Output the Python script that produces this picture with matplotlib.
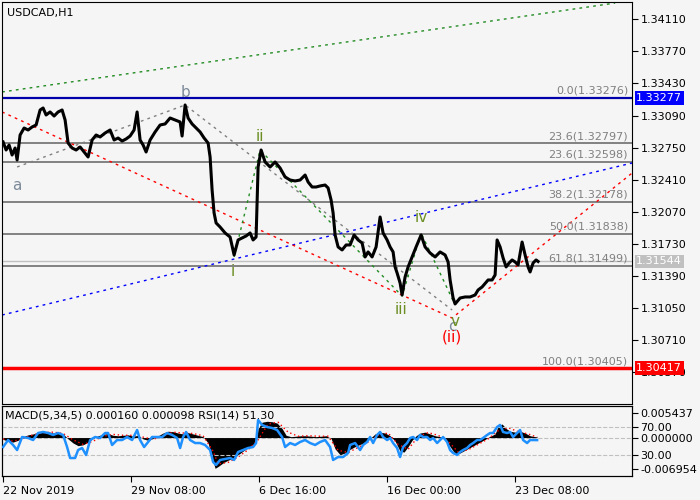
import numpy as np
import matplotlib.pyplot as plt

# hourly bars counted from 22 Nov 2019 00:00 (one bar per pixel on the reference)
bars = [0, 3, 6, 9, 12, 14, 17, 21, 25, 29, 33, 37, 40, 43, 47, 51, 55, 59, 62, 65,
        69, 73, 77, 81, 85, 89, 93, 97, 102, 107, 111, 115, 119, 123, 127, 131, 134, 137, 140, 143,
        147, 152, 157, 162, 167, 172, 177, 179, 182, 185, 189, 193, 197, 201, 205, 207, 209, 211, 213, 217,
        222, 227, 231, 235, 239, 243, 247, 250, 253, 255, 258, 262, 267, 272, 277, 282, 287, 292, 297, 302,
        305, 309, 313, 317, 322, 325, 328, 330, 332, 335, 339, 343, 347, 351, 355, 359, 362, 365, 369, 373,
        377, 380, 384, 387, 390, 392, 394, 397, 399, 402, 405, 409, 413, 418, 422, 427, 432, 437, 442, 445,
        447, 450, 452, 457, 462, 467, 472, 475, 479, 485, 489, 492, 494, 497, 500, 503, 506, 509, 512, 515,
        519, 522, 525, 527, 530, 533, 535]
close = [1.32810, 1.32725, 1.32778, 1.32672, 1.32746, 1.32619, 1.32884, 1.32958, 1.32937, 1.32969,
         1.32990, 1.33149, 1.33170, 1.33096, 1.33128, 1.33085, 1.33128, 1.33149, 1.33043, 1.32799,
         1.32746, 1.32725, 1.32757, 1.32704, 1.32651, 1.32831, 1.32884, 1.32863, 1.32905, 1.32937,
         1.32831, 1.32852, 1.32820, 1.32842, 1.32873, 1.32937, 1.33128, 1.32831, 1.32778, 1.32704,
         1.32831, 1.32916, 1.32990, 1.33001, 1.33064, 1.33043, 1.33022, 1.32873, 1.33202, 1.33064,
         1.33001, 1.32958, 1.32916, 1.32852, 1.32799, 1.32651, 1.32301, 1.32058, 1.31952, 1.31909,
         1.31846, 1.31803, 1.31613, 1.31772, 1.31793, 1.31814, 1.31846, 1.31772, 1.31803, 1.32545,
         1.32725, 1.32598, 1.32545, 1.32598, 1.32534, 1.32439, 1.32407, 1.32397, 1.32407, 1.32460,
         1.32386, 1.32333, 1.32333, 1.32344, 1.32354, 1.32323, 1.32195, 1.32058, 1.31825, 1.31698,
         1.31666, 1.31719, 1.31719, 1.31825, 1.31772, 1.31740, 1.31592, 1.31645, 1.31592, 1.31698,
         1.32015, 1.31846, 1.31772, 1.31698, 1.31645, 1.31486, 1.31422, 1.31316, 1.31189, 1.31380,
         1.31486, 1.31592, 1.31698, 1.31825, 1.31698, 1.31634, 1.31592, 1.31645, 1.31613, 1.31539,
         1.31348, 1.31157, 1.31094, 1.31157, 1.31168, 1.31168, 1.31189, 1.31242, 1.31274, 1.31348,
         1.31348, 1.31401, 1.31772, 1.31698, 1.31581, 1.31486, 1.31528, 1.31560, 1.31539, 1.31507,
         1.31750, 1.31613, 1.31486, 1.31433, 1.31528, 1.31560, 1.31544]

fib_levels = [1.33276, 1.32797, 1.32598, 1.32178, 1.31838, 1.31499, 1.30405]
fib_labels = ['0.0(1.33276)', '23.6(1.32797)', '23.6(1.32598)', '38.2(1.32178)',
              '50.0(1.31838)', '61.8(1.31499)', '100.0(1.30405)']

price_ticks = [1.34110, 1.33770, 1.33430, 1.33090, 1.32750, 1.32410, 1.32070,
               1.31730, 1.31390, 1.31050, 1.30710, 1.30370]

# trend / channel lines (bar, price)
green_top_x, green_top_y = [-1, 612], [1.33340, 1.34282]
blue_x, blue_y = [-1, 629], [1.30977, 1.32587]
red_x, red_y = [-1, 449, 629], [1.33128, 1.30945, 1.32481]
abc_x, abc_y = [14, 182, 449], [1.32545, 1.33202, 1.31030]
wave_x = [231, 257, 399, 418, 452]
wave_y = [1.31592, 1.32725, 1.31178, 1.31846, 1.31083]

# wave labels
labels_gray = [('a', 14, 1.32354), ('b', 182, 1.33329), ('c', 449, 1.30850)]
labels_green = [('i', 230, 1.31433), ('ii', 257, 1.32863), ('iii', 398, 1.31030),
                ('iv', 418, 1.32015), ('v', 452, 1.30903)]

# indicator panel
macd_x = [0, 5, 10, 15, 20, 25, 30, 35, 40, 45, 50, 55, 60, 65, 70, 75, 80, 85, 90, 95,
          100, 105, 110, 115, 120, 125, 130, 135, 140, 145, 150, 155, 160, 165, 170, 175, 180, 185, 190, 195,
          200, 205, 209, 212, 215, 220, 225, 230, 235, 240, 245, 250, 253, 255, 259, 264, 269, 274, 279, 283,
          288, 293, 298, 303, 308, 313, 318, 323, 328, 332, 337, 342, 347, 352, 357, 362, 367, 372, 377, 382,
          387, 392, 397, 401, 405, 409, 413, 417, 422, 427, 432, 437, 442, 447, 452, 457, 462, 467, 472, 477,
          482, 487, 492, 495, 499, 503, 507, 512, 517, 522, 527, 532, 534]
macd = [-0.0004, -0.0008, -0.0010, -0.0006, 0.0002, 0.0006, 0.0008, 0.0011, 0.0014, 0.0013,
        0.0010, 0.0011, 0.0008, -0.0003, -0.0012, -0.0018, -0.0016, -0.0010, -0.0002, 0.0004,
        0.0007, 0.0009, 0.0005, 0.0004, 0.0005, 0.0006, 0.0003, 0.0005, -0.0003, -0.0006,
        -0.0002, 0.0004, 0.0010, 0.0014, 0.0013, 0.0010, 0.0008, 0.0011, 0.0008, 0.0005,
        0.0002, -0.0012, -0.0045, -0.0068, -0.0064, -0.0056, -0.0050, -0.0046, -0.0038, -0.0030,
        -0.0022, -0.0016, -0.0010, 0.0020, 0.0034, 0.0036, 0.0035, 0.0032, 0.0020, 0.0005,
        0.0002, 0.0003, 0.0004, 0.0004, 0.0003, 0.0002, 0.0003, 0.0004, -0.0002, -0.0025,
        -0.0038, -0.0034, -0.0026, -0.0020, -0.0015, -0.0012, -0.0002, 0.0008, 0.0012, 0.0010,
        0.0004, -0.0008, -0.0030, -0.0032, -0.0020, -0.0006, 0.0004, 0.0010, 0.0012, 0.0008,
        0.0004, 0.0002, -0.0004, -0.0020, -0.0036, -0.0034, -0.0028, -0.0022, -0.0016, -0.0010,
        -0.0004, 0.0003, 0.0008, 0.0025, 0.0030, 0.0020, 0.0014, 0.0012, 0.0014, 0.0010,
        0.0004, 0.0002, 0.00016]
signal_x = [0, 10, 20, 30, 40, 50, 60, 70, 80, 90, 100, 110, 120, 130, 140, 150, 160, 170, 180, 190,
            200, 210, 215, 225, 235, 245, 255, 265, 275, 285, 295, 305, 315, 325, 335, 345, 355, 365, 375, 385,
            395, 405, 415, 425, 435, 445, 455, 465, 475, 485, 495, 505, 515, 525, 534]
signal = [-0.0003, -0.0008, -0.0002, 0.0006, 0.0011, 0.0012, 0.0009, -0.0005, -0.0015, -0.0008,
          0.0003, 0.0007, 0.0005, 0.0005, 0.0001, -0.0004, 0.0004, 0.0012, 0.0010, 0.0009,
          0.0004, -0.0030, -0.0058, -0.0055, -0.0043, -0.0027, -0.0005, 0.0030, 0.0034, 0.0012,
          0.0003, 0.0004, 0.0003, 0.0003, -0.0028, -0.0033, -0.0022, -0.0010, 0.0005, 0.0010,
          -0.0015, -0.0026, 0.0002, 0.0011, 0.0005, -0.0008, -0.0032, -0.0027, -0.0015, -0.0003,
          0.0015, 0.0022, 0.0013, 0.0008, 0.000098]
rsi_x = [0, 5, 10, 14, 19, 25, 30, 35, 40, 45, 50, 55, 60, 64, 67, 72, 75, 79, 83, 87,
         92, 97, 102, 105, 109, 114, 119, 124, 129, 134, 137, 141, 145, 149, 154, 159, 164, 169, 174, 177,
         180, 183, 187, 192, 197, 202, 207, 210, 213, 217, 222, 227, 231, 235, 240, 245, 250, 253, 255, 259,
         264, 269, 274, 279, 282, 287, 292, 297, 302, 307, 312, 317, 322, 327, 330, 335, 340, 345, 347, 352,
         357, 360, 364, 367, 370, 374, 377, 380, 384, 387, 390, 394, 397, 400, 404, 407, 410, 414, 417, 420,
         424, 427, 430, 434, 437, 440, 444, 447, 450, 454, 457, 460, 464, 467, 470, 474, 477, 480, 484, 487,
         490, 494, 497, 500, 504, 507, 510, 514, 517, 520, 524, 527, 530, 534]
rsi = [41.4, 51.4, 44.3, 37.1, 55.7, 54.3, 51.4, 61.4, 62.9, 61.4, 58.6, 61.4, 58.6, 41.4, 25.7, 25.7, 37.1, 40.0, 30.0, 51.4,
       55.7, 54.3, 61.4, 61.4, 44.3, 51.4, 51.4, 55.7, 51.4, 65.7, 51.4, 41.4, 48.6, 55.7, 55.7, 55.7, 61.4, 58.6, 54.3, 40.0,
       55.7, 62.9, 51.4, 47.1, 47.1, 44.3, 37.1, 20.0, 15.7, 22.9, 24.3, 25.7, 22.9, 34.3, 37.1, 40.0, 41.4, 47.1, 80.0, 72.9,
       70.0, 68.6, 65.7, 55.7, 41.4, 47.1, 44.3, 48.6, 51.4, 47.1, 44.3, 48.6, 51.4, 41.4, 22.9, 27.1, 27.1, 32.9, 44.3, 47.1,
       37.1, 44.3, 48.6, 55.7, 47.1, 58.6, 62.9, 55.7, 51.4, 54.3, 47.1, 40.0, 27.1, 41.4, 47.1, 54.3, 55.7, 51.4, 58.6, 55.7,
       55.7, 51.4, 54.3, 47.1, 51.4, 55.7, 48.6, 37.1, 32.9, 30.0, 34.3, 37.1, 40.0, 44.3, 47.1, 51.4, 51.4, 54.3, 58.6, 61.4,
       61.4, 70.0, 72.9, 62.9, 61.4, 62.9, 55.7, 61.4, 65.7, 51.4, 47.1, 51.4, 51.4, 51.3]

date_ticks = [0, 128, 256, 384, 512]
date_labels = ['22 Nov 2019', '29 Nov 08:00', '6 Dec 16:00', '16 Dec 00:00', '23 Dec 08:00']

bg = '#f5f5f5'
grey = '#808080'
fig = plt.figure(figsize=(7, 5), dpi=100, facecolor=bg)
ax = fig.add_axes([0.003, 0.192, 0.9, 0.804], facecolor=bg)
axm = fig.add_axes([0.003, 0.048, 0.9, 0.14], facecolor=bg, sharex=ax)
axr = axm.twinx()
axr.patch.set_visible(False)

# ---- price panel ----
for lvl, lab in zip(fib_levels, fib_labels):
    ax.axhline(lvl, color='#6e6e6e', lw=1.2, zorder=1)
    ax.annotate(lab, (625, lvl), xytext=(0, 1.5), textcoords='offset points',
                ha='right', va='bottom', color=grey, fontsize=8)
ax.axhline(1.33277, color='#0000aa', lw=1.6, zorder=2)
ax.axhline(1.30417, color='#ff0000', lw=2.5, zorder=2)
ax.axhline(1.31544, color='#c0c0c0', lw=1, zorder=1)

ax.plot(green_top_x, green_top_y, color='#228b22', ls=(0, (2, 3)), lw=1)
ax.plot(blue_x, blue_y, color='#0000ff', ls=(0, (2, 3)), lw=1)
ax.plot(red_x, red_y, color='#ff0000', ls=(0, (2, 3)), lw=1)
ax.plot(abc_x, abc_y, color=grey, ls=(0, (2, 3)), lw=1)
ax.plot(wave_x, wave_y, color='#228b22', ls=(0, (2, 3)), lw=1)

ax.plot(bars, close, color='black', lw=2.2, zorder=3)

for t, x, y in labels_gray:
    ax.text(x, y, t, color='#7d8a99', fontsize=11, ha='center', va='center', zorder=4)
for t, x, y in labels_green:
    ax.text(x, y, t, color='#6b8e23', fontsize=11, ha='center', va='center', zorder=4)
ax.text(449, 1.30740, '(ii)', color='#ff0000', fontsize=11, ha='center', va='center', zorder=4)

ax.text(0.008, 0.985, 'USDCAD,H1', transform=ax.transAxes, fontsize=8, va='top', ha='left')

ax.set_xlim(-1, 629)
ax.set_ylim(1.30034, 1.34293)
ax.yaxis.tick_right()
ax.set_yticks(price_ticks)
ax.set_yticklabels(['%.5f' % p for p in price_ticks], fontsize=8)
ax.tick_params(axis='y', direction='out', length=4, pad=2)
ax.tick_params(axis='x', bottom=False, labelbottom=False)

for val, col in [(1.33277, '#0000ff'), (1.31544, '#c0c0c0'), (1.30417, '#ff0000')]:
    ax.annotate('%.5f' % val, (1.0, val), xycoords=('axes fraction', 'data'),
                xytext=(3, 0), textcoords='offset points', ha='left', va='center',
                color='white', fontsize=8, zorder=6,
                bbox=dict(boxstyle='square,pad=0.15', fc=col, ec='none'))

# ---- MACD / RSI panel ----
axm.fill_between(macd_x, macd, 0, color='black', lw=0, zorder=2)
axm.plot(signal_x, signal, color='#ff0000', ls=(0, (1, 2)), lw=1, zorder=3)
axm.axhline(0, color='#c0c0c0', ls='--', lw=0.8, zorder=1)
axm.set_ylim(-0.008501, 0.006984)
axm.yaxis.tick_right()
axm.yaxis.set_label_position('right')
axm.set_yticks([0.005437, 0.0, -0.006954])
axm.set_yticklabels(['0.005437', '0.000000', '-0.006954'], fontsize=8)
axm.tick_params(axis='y', which='both', left=False, labelleft=False, right=True, labelright=True,
                direction='out', length=4, pad=2)

axr.plot(rsi_x, rsi, color='#1e90ff', lw=1.8, zorder=4)
axr.axhline(70, color='#c0c0c0', ls='--', lw=0.8)
axr.axhline(30, color='#c0c0c0', ls='--', lw=0.8)
axr.set_ylim(0, 100)
axr.set_yticks([70, 30])
axr.set_yticklabels(['70.00', '30.00'], fontsize=8)
axr.tick_params(axis='y', direction='out', length=4, pad=2)

axm.text(0.005, 0.93, 'MACD(5,34,5) 0.000160 0.000098 RSI(14) 51.30',
         transform=axm.transAxes, fontsize=8, va='top', ha='left', zorder=5)

axm.set_xticks(date_ticks)
axm.set_xticklabels(date_labels, fontsize=8, ha='left')
axm.tick_params(axis='x', direction='out', length=4, pad=3)

fig.savefig('out.png', dpi=100, facecolor=bg)
